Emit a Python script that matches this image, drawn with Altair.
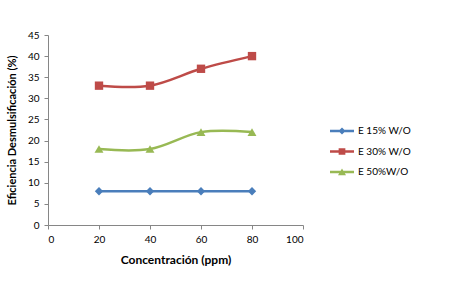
import altair as alt
import pandas as pd

conc = [20, 40, 60, 80]
series_names = ["E 15% W/O", "E 30% W/O", "E 50%W/O"]
e15 = [8, 8, 8, 8]
e30 = [33, 33, 37, 40]
e50 = [18, 18, 22, 22]
colors = ["#4A7EBB", "#BE4B48", "#98B954"]
plot_shapes = ["diamond", "square", "triangle-up"]

rows = []
for name, vals in zip(series_names, [e15, e30, e50]):
    for c, v in zip(conc, vals):
        rows.append({"conc": c, "val": v, "serie": name})
df = pd.DataFrame(rows)

FONT = "Lato"

x = alt.X("conc:Q", scale=alt.Scale(domain=[0, 100]),
          axis=alt.Axis(values=[0, 20, 40, 60, 80, 100], title="Concentración (ppm)",
                        titlePadding=10, labelPadding=5, titleFontSize=12))
y = alt.Y("val:Q", scale=alt.Scale(domain=[0, 45]),
          axis=alt.Axis(values=list(range(0, 50, 5)), title="Eficiencia Desmulsificación (%)",
                        titlePadding=10, labelPadding=5))

base = alt.Chart(df)

layers = []
for name, col in zip(series_names, colors):
    layers.append(base.transform_filter(alt.datum.serie == name).mark_line(
        interpolate="cardinal", strokeWidth=2.5, color=col).encode(x=x, y=y))
for name, col, shp in zip(series_names, colors, plot_shapes):
    layers.append(base.transform_filter(alt.datum.serie == name).mark_point(
        shape=shp, filled=True, opacity=1, color=col,
        size=70 if shp != "triangle-up" else 80).encode(x=x, y=y))

def legend_path(marker):
    bar = "M-1.5,-0.15H1.5V0.15H-1.5Z"
    return bar + " " + marker

legend_shapes = [
    legend_path("M0,-0.45L0.45,0L0,0.45L-0.45,0Z"),
    legend_path("M-0.42,-0.42H0.42V0.42H-0.42Z"),
    legend_path("M0,-0.45L0.5,0.4H-0.5Z"),
]

leg = alt.Legend(
    title=None, orient="none", legendX=286, legendY=88, padding=0,
    symbolSize=256, symbolStrokeWidth=0, symbolOpacity=1,
    labelOffset=8, rowPadding=7.5, labelFont=FONT, labelFontSize=10,
    labelColor="#000000")

legend_layer = base.transform_filter("false").mark_point(filled=True, opacity=1).encode(
    x=x, y=y,
    color=alt.Color("serie:N", scale=alt.Scale(domain=series_names, range=colors), legend=leg),
    shape=alt.Shape("serie:N", scale=alt.Scale(domain=series_names, range=legend_shapes), legend=leg),
)
layers.append(legend_layer)

chart = alt.layer(*layers).properties(
    width=255, height=190,
    autosize=alt.AutoSizeParams(type="none"),
    padding={"left": 48, "top": 35, "right": 158, "bottom": 66},
    background="white",
).configure_view(stroke=None).configure_axis(
    grid=False, domainColor="#868686", tickColor="#868686", tickSize=4,
    labelFont=FONT, labelFontSize=10, labelColor="#000000",
    titleFont=FONT, titleFontSize=11, titleFontWeight="bold", titleColor="#000000",
)

chart.save("out.html", embed_options={"renderer": "svg", "actions": False})
